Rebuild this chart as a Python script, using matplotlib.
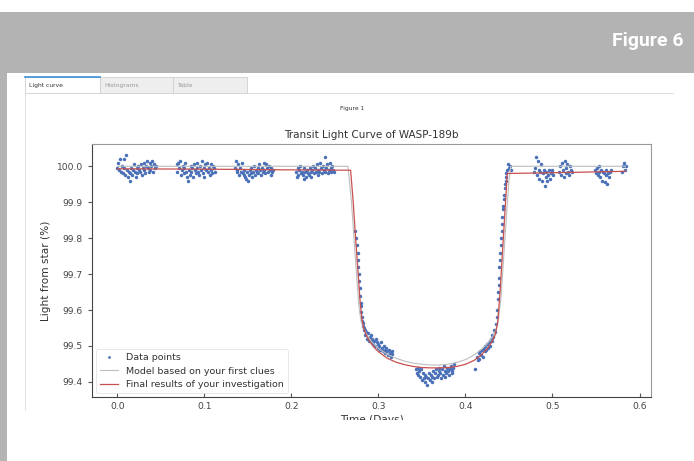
import numpy as np
import matplotlib.pyplot as plt
from matplotlib.patches import Rectangle
from matplotlib.lines import Line2D

# ---- data ----
# out-of-transit clusters before ingress
t_pre1 = [0.000,0.001,0.002,0.003,0.004,0.005,0.006,0.007,0.008,0.009,0.010,0.011,0.012,0.013,0.014,0.015,
          0.016,0.017,0.018,0.019,0.020,0.021,0.022,0.023,0.024,0.025,0.026,0.027,0.028,0.029,0.030,0.031,
          0.032,0.033,0.034,0.035,0.036,0.037,0.038,0.039,0.040,0.041,0.042,0.043,0.044]
f_pre1 = [99.995,100.010,99.990,100.020,99.985,100.000,99.980,100.020,99.995,99.975,100.030,99.990,99.970,
          99.985,99.960,99.980,99.995,99.975,99.990,100.005,99.985,99.970,99.995,99.980,100.000,99.990,
          99.985,100.005,99.975,99.995,100.010,99.990,99.980,100.000,100.015,99.995,99.985,100.010,99.990,
          100.000,100.015,99.985,100.005,99.995,100.000]
t_pre2 = [0.068,0.069,0.070,0.071,0.072,0.073,0.074,0.075,0.076,0.077,0.078,0.079,0.080,0.081,0.082,0.083,
          0.084,0.085,0.086,0.087,0.088,0.089,0.090,0.091,0.092,0.093,0.094,0.095,0.096,0.097,0.098,0.099,
          0.100,0.101,0.102,0.103,0.104,0.105,0.106,0.107,0.108,0.109,0.110,0.111,0.112]
f_pre2 = [100.005,99.985,100.010,99.995,100.015,99.975,99.990,100.000,99.980,99.995,100.010,99.985,99.970,
          99.960,99.990,99.975,100.000,99.985,99.995,99.970,100.005,99.990,99.980,99.995,100.010,99.985,
          99.975,100.000,99.990,100.015,99.980,99.995,99.970,100.005,99.990,100.010,99.985,99.995,99.975,
          100.005,99.990,99.980,100.000,99.995,99.985]
t_pre3 = [0.135,0.136,0.137,0.138,0.139,0.140,0.141,0.142,0.143,0.144,0.145,0.146,0.147,0.148,0.149,0.150,
          0.151,0.152,0.153,0.154,0.155,0.156,0.157,0.158,0.159,0.160,0.161,0.162,0.163,0.164,0.165,0.166,
          0.167,0.168,0.169,0.170,0.171,0.172,0.173,0.174,0.175,0.176,0.177,0.178,0.179]
f_pre3 = [99.995,100.015,99.985,99.990,100.005,99.975,99.995,99.985,100.010,99.980,99.990,99.975,99.970,
          99.965,99.985,99.960,99.975,99.990,99.980,99.995,99.970,99.985,100.000,99.975,99.990,99.985,
          99.995,99.980,100.005,99.990,99.975,99.995,99.985,100.010,99.990,99.980,100.005,99.995,99.985,
          100.000,99.990,99.975,99.995,99.985,99.990]
t_pre4 = [0.205,0.206,0.207,0.208,0.209,0.210,0.211,0.212,0.213,0.214,0.215,0.216,0.217,0.218,0.219,0.220,
          0.221,0.222,0.223,0.224,0.225,0.226,0.227,0.228,0.229,0.230,0.231,0.232,0.233,0.234,0.235,0.236,
          0.237,0.238,0.239,0.240,0.241,0.242,0.243,0.244,0.245,0.246,0.247,0.248,0.249]
f_pre4 = [99.985,99.970,99.995,99.975,99.990,100.000,99.980,99.985,99.975,99.995,99.965,99.985,99.970,
          99.990,99.980,99.975,99.995,99.985,99.970,99.990,100.000,99.980,99.995,99.985,100.005,99.975,
          99.990,99.985,100.010,99.995,99.980,100.000,99.990,100.025,99.985,99.995,100.005,99.980,99.990,
          100.010,99.985,99.995,100.000,99.990,99.985]
# ingress
t_ing = [0.2735,0.2745,0.2755,0.2760,0.2765,0.2770,0.2775,0.2780,0.2785,0.2790,0.2795,0.2800,0.2805,
         0.2810,0.2815,0.2820,0.2825,0.2830,0.2835]
f_ing = [99.82,99.80,99.78,99.76,99.74,99.72,99.70,99.68,99.66,99.64,99.62,99.61,99.595,99.58,99.57,
         99.565,99.555,99.55,99.545]
# early in-transit
t_in1 = [0.284,0.285,0.286,0.287,0.288,0.289,0.290,0.291,0.292,0.293,0.294,0.295,0.296,0.297,0.298,0.299,
         0.300,0.301,0.302,0.303,0.304,0.305,0.306,0.307,0.308,0.309,0.310,0.311,0.312,0.313,0.314,0.315,0.316]
f_in1 = [99.545,99.530,99.540,99.520,99.535,99.515,99.525,99.530,99.510,99.520,99.505,99.515,99.500,99.520,
         99.510,99.495,99.505,99.500,99.490,99.510,99.495,99.485,99.500,99.490,99.480,99.495,99.485,99.475,
         99.490,99.480,99.470,99.485,99.478]
# mid transit
t_in2 = [0.343,0.344,0.345,0.346,0.347,0.348,0.349,0.350,0.351,0.352,0.353,0.354,0.355,0.356,0.357,0.358,
         0.359,0.360,0.361,0.362,0.363,0.364,0.365,0.366,0.367,0.368,0.369,0.370,0.371,0.372,0.373,0.374,
         0.375,0.376,0.377,0.378,0.379,0.380,0.381,0.382,0.383,0.384,0.385,0.386,0.387]
f_in2 = [99.435,99.425,99.440,99.420,99.430,99.415,99.435,99.405,99.425,99.410,99.420,99.400,99.415,99.390,
         99.410,99.425,99.405,99.420,99.400,99.415,99.430,99.410,99.425,99.435,99.415,99.420,99.430,99.440,
         99.425,99.410,99.435,99.420,99.445,99.430,99.415,99.425,99.440,99.430,99.420,99.435,99.445,99.425,
         99.430,99.440,99.450]
# late in-transit
t_in3 = [0.411,0.413,0.414,0.415,0.416,0.417,0.418,0.419,0.420,0.421,0.422,0.423,0.424,0.425,0.426,0.427,
         0.428,0.429,0.430,0.431,0.432,0.433,0.434,0.435]
f_in3 = [99.435,99.470,99.460,99.480,99.465,99.485,99.475,99.490,99.470,99.495,99.485,99.500,99.490,99.505,
         99.495,99.510,99.500,99.520,99.515,99.530,99.525,99.545,99.540,99.560]
# egress
t_egr = [0.4360,0.4365,0.4370,0.4375,0.4380,0.4385,0.4390,0.4395,0.4400,0.4405,0.4410,0.4415,0.4420,
         0.4425,0.4430,0.4435,0.4440,0.4445,0.4450,0.4455,0.4460,0.4465,0.4470]
f_egr = [99.58,99.60,99.63,99.65,99.67,99.69,99.72,99.74,99.76,99.78,99.80,99.82,99.84,99.86,99.88,99.89,
         99.91,99.92,99.94,99.95,99.96,99.97,99.98]
# out-of-transit after egress
t_post = [0.448,0.449,0.450,0.451,0.452,
          0.479,0.480,0.481,0.482,0.483,0.484,0.485,0.486,0.487,0.488,0.489,0.490,0.491,0.492,0.493,
          0.494,0.495,0.496,0.497,0.498,0.499,0.500,0.501,
          0.508,0.509,0.510,0.511,0.512,0.513,0.514,0.515,0.516,0.517,0.518,0.519,0.520,0.521,0.522,
          0.549,0.550,0.551,0.552,0.553,0.554,0.555,0.556,0.557,0.558,0.559,0.560,0.561,0.562,0.563,
          0.564,0.565,0.566,0.567,
          0.580,0.581,0.582,0.583,0.584]
f_post = [99.990,100.005,99.995,100.000,99.990,
          99.985,99.995,100.025,99.975,100.015,99.990,99.965,99.985,100.005,99.960,99.980,99.990,99.945,
          99.970,99.985,99.960,99.975,99.990,99.965,99.980,99.990,99.985,99.975,
          99.985,100.000,99.975,100.010,99.990,99.970,100.015,99.995,99.980,100.005,99.985,99.975,
          100.000,99.990,99.985,
          99.990,99.980,99.995,99.975,99.985,100.000,99.970,99.990,99.960,99.985,99.980,99.955,99.975,
          99.990,99.950,99.980,99.970,99.985,99.990,
          99.985,100.000,100.010,99.990,100.000]

# model based on first clues (grey) and final fit (red)
t_model = [0.000,0.100,0.200,0.265,0.269,0.273,0.276,0.278,0.280,0.283,0.287,0.292,0.300,0.310,0.320,0.330,
           0.340,0.350,0.360,0.370,0.380,0.390,0.400,0.410,0.418,0.425,0.431,0.435,0.438,0.441,0.444,
           0.447,0.450,0.452,0.500,0.584]
f_model = [100.000,100.000,100.000,100.000,99.90,99.76,99.66,99.60,99.570,99.548,99.530,99.512,99.493,
           99.477,99.466,99.458,99.452,99.449,99.447,99.447,99.449,99.454,99.462,99.475,99.490,99.506,
           99.525,99.545,99.575,99.64,99.75,99.86,99.96,100.000,100.000,100.000]
t_final = [0.000,0.100,0.200,0.268,0.271,0.274,0.277,0.279,0.281,0.283,0.286,0.290,0.295,0.300,0.310,0.320,
           0.330,0.340,0.350,0.360,0.370,0.380,0.390,0.400,0.410,0.418,0.425,0.430,0.434,0.437,0.440,
           0.443,0.446,0.448,0.500,0.584]
f_final = [99.993,99.992,99.990,99.989,99.90,99.79,99.69,99.62,99.575,99.550,99.530,99.512,99.496,99.484,
           99.466,99.455,99.448,99.443,99.440,99.439,99.439,99.440,99.443,99.449,99.460,99.475,99.492,
           99.510,99.530,99.565,99.66,99.78,99.90,99.980,99.982,99.986]

t_data = t_pre1 + t_pre2 + t_pre3 + t_pre4 + t_ing + t_in1 + t_in2 + t_in3 + t_egr + t_post
f_data = f_pre1 + f_pre2 + f_pre3 + f_pre4 + f_ing + f_in1 + f_in2 + f_in3 + f_egr + f_post

W, H = 694, 461
fig = plt.figure(figsize=(W / 100, H / 100), dpi=100)


def box(x0, y0, x1, y1, **kw):
    # rectangle given in screenshot pixels
    fig.add_artist(Rectangle((x0 / W, 1 - y1 / H), (x1 - x0) / W, (y1 - y0) / H,
                             transform=fig.transFigure, **kw))


def hline(x0, x1, y, **kw):
    fig.add_artist(Line2D([x0 / W, x1 / W], [1 - y / H, 1 - y / H], transform=fig.transFigure, **kw))


def vline(x, y0, y1, **kw):
    fig.add_artist(Line2D([x / W, x / W], [1 - y0 / H, 1 - y1 / H], transform=fig.transFigure, **kw))


# page decoration: grey header band + left strip
box(0, 12, W, 73, color='#b3b3b3', lw=0)
box(0, 73, 7, H, color='#b3b3b3', lw=0)
fig.text(683 / W, 1 - 41 / H, 'Figure 6', ha='right', va='center', color='white', fontsize=14,
         fontweight='bold', family=['Liberation Sans Narrow', 'Roboto'])

# tabs
box(25, 77, 100, 93, facecolor='white', edgecolor='#cfcfcf', lw=0.6)
box(100, 77, 173, 93, facecolor='#eeeeee', edgecolor='#cfcfcf', lw=0.6)
box(173, 77, 247, 93, facecolor='#eeeeee', edgecolor='#cfcfcf', lw=0.6)
hline(25, 100, 77, color='#3a8fd8', lw=1.2)
hline(247, 673, 93, color='#d8d8d8', lw=0.6)
vline(25, 93, 410, color='#dddddd', lw=0.6)
for lbl, xc in [('Light curve', 29), ('Histograms', 104), ('Table', 177)]:
    fig.text(xc / W, 1 - 85 / H, lbl, ha='left', va='center', fontsize=4.3,
             color='#333333' if lbl == 'Light curve' else '#999999')
fig.text(352 / W, 1 - 108 / H, 'Figure 1', ha='center', va='center', fontsize=4.3, color='#333333')

# the plot itself
ax = fig.add_axes([92 / W, 1 - 397 / H, (651 - 92) / W, (397 - 144) / H])
ax.plot(t_data, f_data, 'o', ms=2.5, color='#4a70b8', mew=0, label='Data points', zorder=2)
ax.plot(t_model, f_model, color='#bdbdbd', lw=0.8, label='Model based on your first clues', zorder=3)
ax.plot(t_final, f_final, color='#c8504f', lw=0.9, label='Final results of your investigation', zorder=4)

ax.set_title('Transit Light Curve of WASP-189b', fontsize=7.5, color='#333333', pad=4)
ax.set_xlabel('Time (Days)', fontsize=7.6, color='#333333', labelpad=3)
ax.set_ylabel('Light from star (%)', fontsize=7.6, color='#333333', labelpad=4)
ax.set_xticks([0.0, 0.1, 0.2, 0.3, 0.4, 0.5, 0.6])
ax.set_yticks([99.4, 99.5, 99.6, 99.7, 99.8, 99.9, 100.0])
ax.tick_params(axis='x', direction='in', length=3, labelsize=6.6, labelcolor='#444444', color='#555555')
ax.tick_params(axis='y', direction='out', length=3, labelsize=6.6, labelcolor='#444444', color='#555555')
for s in ['left', 'bottom']:
    ax.spines[s].set_color('#444444')
for s in ['top', 'right']:
    ax.spines[s].set_color('#999999')

leg = ax.legend(loc='lower left', fontsize=6.8, frameon=True, borderaxespad=0.4, handlelength=2.0,
                labelspacing=0.5, markerscale=0.8)
leg.get_frame().set_edgecolor('#dddddd')
leg.get_frame().set_linewidth(0.6)
for txt in leg.get_texts():
    txt.set_color('#333333')

# screenshot is cut just under the x-axis label
box(8, 420, W, H, color='white', lw=0, zorder=20)

fig.savefig('out.png', dpi=100)
